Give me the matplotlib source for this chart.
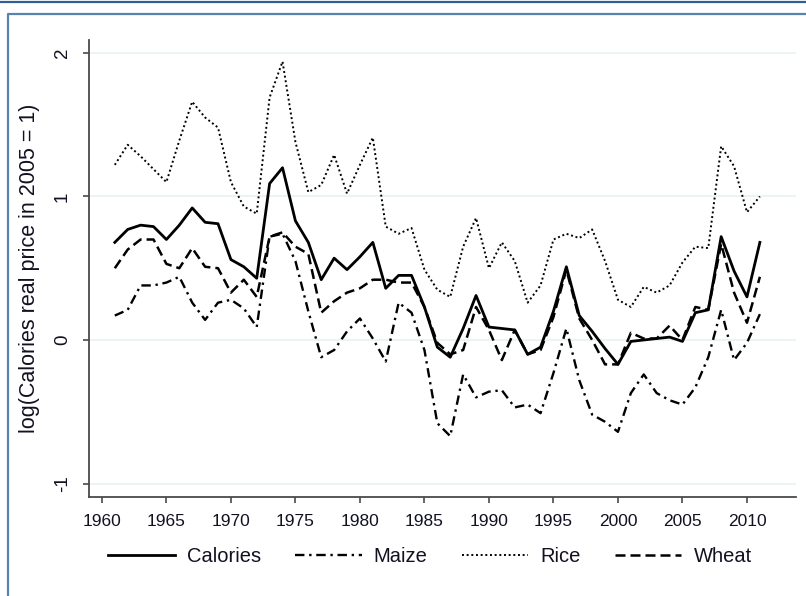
import matplotlib
matplotlib.use("Agg")
import matplotlib.pyplot as plt
from matplotlib.lines import Line2D

plt.rcParams['font.family'] = ['Liberation Sans', 'DejaVu Sans']
plt.rcParams['axes.unicode_minus'] = False

years = list(range(1961, 2012))

calories = [0.68, 0.77, 0.80, 0.79, 0.70, 0.80, 0.92, 0.82, 0.81, 0.56,
            0.51, 0.43, 1.09, 1.20, 0.83, 0.68, 0.42, 0.57, 0.49, 0.58,
            0.68, 0.36, 0.45, 0.45, 0.23, -0.05, -0.12, 0.08, 0.31, 0.09,
            0.08, 0.07, -0.10, -0.05, 0.20, 0.51, 0.17, 0.06, -0.06, -0.17,
            -0.01, 0.00, 0.01, 0.02, -0.01, 0.19, 0.21, 0.72, 0.48, 0.30,
            0.68]

maize = [0.17, 0.21, 0.38, 0.38, 0.40, 0.44, 0.26, 0.14, 0.26, 0.28,
         0.22, 0.09, 0.72, 0.74, 0.55, 0.20, -0.12, -0.07, 0.06, 0.15,
         0.01, -0.15, 0.26, 0.19, -0.07, -0.58, -0.67, -0.24, -0.40, -0.36,
         -0.35, -0.47, -0.45, -0.51, -0.23, 0.08, -0.28, -0.52, -0.57, -0.64,
         -0.37, -0.24, -0.37, -0.42, -0.45, -0.33, -0.12, 0.21, -0.14, -0.02,
         0.18]

rice = [1.22, 1.36, 1.28, 1.19, 1.10, 1.39, 1.66, 1.55, 1.48, 1.10,
        0.93, 0.88, 1.69, 1.94, 1.38, 1.03, 1.08, 1.29, 1.02, 1.22,
        1.41, 0.79, 0.74, 0.78, 0.49, 0.35, 0.30, 0.65, 0.85, 0.50,
        0.68, 0.55, 0.26, 0.38, 0.70, 0.74, 0.71, 0.77, 0.55, 0.28,
        0.23, 0.37, 0.33, 0.38, 0.54, 0.65, 0.64, 1.35, 1.21, 0.89,
        1.00]

wheat = [0.50, 0.63, 0.70, 0.70, 0.53, 0.50, 0.64, 0.51, 0.50, 0.33,
         0.42, 0.30, 0.72, 0.75, 0.65, 0.60, 0.19, 0.27, 0.33, 0.36,
         0.42, 0.42, 0.40, 0.40, 0.23, -0.02, -0.10, -0.07, 0.23, 0.07,
         -0.14, 0.07, -0.10, -0.07, 0.16, 0.49, 0.15, 0.00, -0.17, -0.17,
         0.05, 0.01, 0.01, 0.10, 0.00, 0.23, 0.21, 0.67, 0.33, 0.12,
         0.44]

x_ticks = list(range(1960, 2011, 5))
y_ticks = [-1, 0, 1, 2]

W, H = 806, 596
fig = plt.figure(figsize=(W / 100, H / 100), dpi=100)
fig.patch.set_facecolor('white')

# plot region in pixels: left 89, right 796, top 40, bottom 497
ax = fig.add_axes([89 / W, 1 - 497 / H, (796 - 89) / W, (497 - 40) / H])

ax.plot(years, calories, color='black', lw=2.0, ls='-', label='Calories')
ax.plot(years, maize, color='black', lw=1.7, dashes=(4, 2, 1, 2), label='Maize')
ax.plot(years, rice, color='black', lw=1.4, dashes=(1, 1.4), label='Rice')
ax.plot(years, wheat, color='black', lw=1.8, dashes=(4, 2), label='Wheat')

ax.set_xlim(1959, 2013.8)
ax.set_ylim(-1.094, 2.09)

ax.set_yticks(y_ticks)
ax.set_yticklabels([str(v) for v in y_ticks], rotation=90, va='center')
ax.set_xticks(x_ticks)
ax.grid(axis='y', color='#eaf2f2', lw=1.3)
ax.set_axisbelow(True)

for s in ['top', 'right']:
    ax.spines[s].set_visible(False)
for s in ['left', 'bottom']:
    ax.spines[s].set_color('#4a4a4a')
    ax.spines[s].set_linewidth(1.3)
ax.tick_params(axis='both', colors='#4a4a4a', length=4, width=1.2, labelsize=12.5,
               labelcolor='#111122')
ax.tick_params(axis='y', labelsize=13.5, pad=9)
ax.tick_params(axis='x', pad=8)

ax.set_ylabel('log(Calories real price in 2005 = 1)', fontsize=15.5, color='#111122')
ax.yaxis.set_label_coords(-0.069, 0.5)

fig.legend(loc='center', bbox_to_anchor=(430 / W, 1 - 557 / H), ncol=4, frameon=False,
           fontsize=14.5, handlelength=3.3, handletextpad=0.6, columnspacing=1.7,
           labelcolor='#111122')

# outer frame lines
fig.add_artist(Line2D([0, 1], [1 - 2 / H, 1 - 2 / H], transform=fig.transFigure,
                      color='#2f5f96', lw=1.6))
fig.add_artist(Line2D([8 / W, 8 / W, 1], [0, 1 - 14 / H, 1 - 14 / H], transform=fig.transFigure,
                      color='#5a82b0', lw=1.6))

fig.savefig('out.png', dpi=100)
